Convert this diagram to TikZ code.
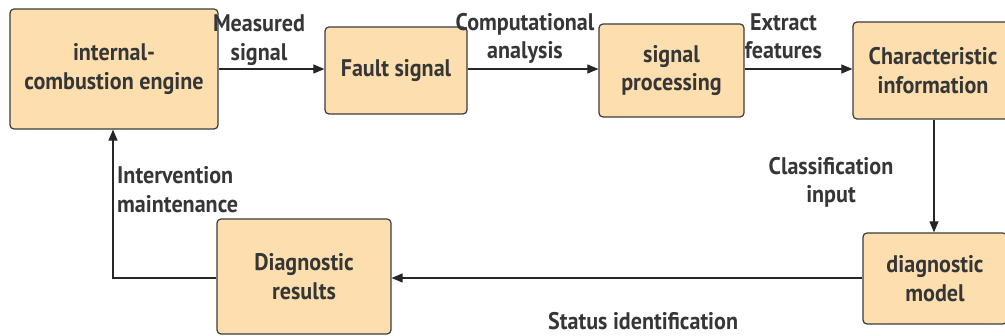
\documentclass[tikz,border=0pt]{standalone}
\usepackage{fontspec}
\setmainfont[FakeStretch=0.92]{PT Sans}
\usetikzlibrary{arrows.meta}
\definecolor{boxfill}{HTML}{FDDFAF}
\definecolor{boxline}{HTML}{3C3C3C}
\definecolor{ink}{HTML}{363636}
\tikzset{
  txt/.style={text=ink, font=\fontsize{24}{28.5}\selectfont\bfseries, inner sep=0pt},
  box/.style={txt, draw=boxline, fill=boxfill, line width=1.2pt, rounded corners=4pt, align=center},
  lbl/.style={txt},
  flow/.style={draw=black!85, line width=1.1pt, -{Triangle[length=11pt,width=9pt]}}
}
\begin{document}
\begin{tikzpicture}[x=1pt,y=-1pt]
\useasboundingbox (0,0) rectangle (1005,336);
% process blocks
\node[box, minimum width=208pt, minimum height=120pt] (eng) at (114,69) {internal-\\combustion engine};
\node[box, minimum width=142pt, minimum height=87pt] (fault) at (396,70.5) {Fault signal};
\node[box, minimum width=145pt, minimum height=93pt] (proc) at (671.5,70.5) {signal\\processing};
\node[box, minimum width=160pt, minimum height=97pt] (char) at (933,70.5) {Characteristic\\information};
\node[box, minimum width=144pt, minimum height=91pt] (model) at (935,278.5) {diagnostic\\model};
\node[box, minimum width=174pt, minimum height=115pt] (res) at (304,276.5) {Diagnostic\\results};
% connectors
\draw[flow] (eng.east |- 0,69) -- (fault.west |- 0,69);
\draw[flow] (fault.east |- 0,69) -- (proc.west |- 0,69);
\draw[flow] (proc.east |- 0,69) -- (char.west |- 0,69);
\draw[flow] (934,0 |- char.south) -- (934,0 |- model.north);
\draw[flow] (model.west |- 0,278) -- (res.east |- 0,278);
\draw[flow] (res.west |- 0,278) -- (113,278) -- (113,0 |- eng.south);
% connector labels
\node[lbl, align=center] (l1) at (259,40) {Measured\\signal};
\node[lbl, align=center] (l2) at (525,38.5) {Computational\\analysis};
\node[lbl, align=center] (l3) at (783.5,36.5) {Extract\\features};
\node[lbl, align=center] (l4) at (831,182.5) {Classification\\input};
\node[lbl, align=left, anchor=west] (l5) at (117,189.5) {Intervention\\maintenance};
\node[lbl, anchor=base west] (l6) at (548,330) {Status identification};
\end{tikzpicture}
\end{document}
